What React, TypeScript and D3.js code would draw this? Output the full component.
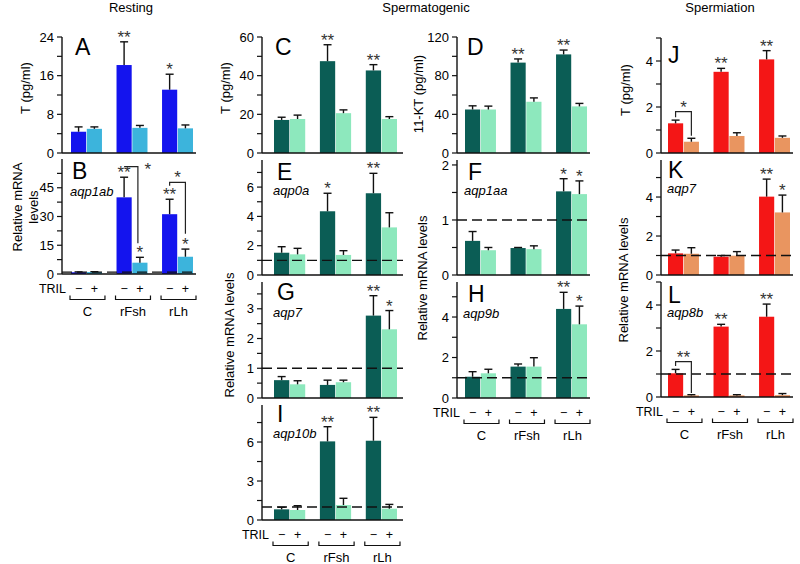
import React from "react";
import * as d3 from "d3";

const FONT = "'Liberation Sans', Arial, Helvetica, sans-serif";

const groups = ["C", "rFsh", "rLh"];
const trilLevels = ["−", "+"];

// order: C−, C+, rFsh−, rFsh+, rLh−, rLh+
const restTMean = [4.4, 5.0, 18.2, 5.2, 13.1, 5.1];
const restTSem = [1.0, 0.4, 4.8, 0.5, 3.2, 0.7];
const restAqp1abMean = [0.9, 1.0, 40, 5.9, 31.2, 9.0];
const restAqp1abSem = [0.2, 0.2, 10.5, 2.8, 7.8, 4.0];

const spgTMean = [17.1, 17.6, 47.5, 20.6, 42.7, 17.6];
const spgTSem = [1.4, 2.0, 8.5, 1.7, 3.0, 1.2];
const spgKtMean = [45, 45, 93.5, 53, 102, 48.2];
const spgKtSem = [3.8, 3.5, 3.8, 4.0, 4.5, 3.1];
const spgAqp0aMean = [1.52, 1.41, 4.35, 1.37, 5.58, 3.25];
const spgAqp0aSem = [0.41, 0.41, 1.23, 0.29, 1.36, 1.0];
const spgAqp1aaMean = [0.62, 0.45, 0.49, 0.47, 1.52, 1.47];
const spgAqp1aaSem = [0.17, 0.05, 0.01, 0.06, 0.23, 0.24];
const spgAqp7Mean = [0.6, 0.46, 0.44, 0.53, 2.77, 2.31];
const spgAqp7Sem = [0.12, 0.12, 0.16, 0.07, 0.67, 0.63];
const spgAqp9bMean = [1.05, 1.22, 1.55, 1.55, 4.4, 3.64];
const spgAqp9bSem = [0.25, 0.2, 0.13, 0.44, 0.82, 0.9];
const spgAqp10bMean = [0.82, 0.77, 6.05, 1.15, 6.1, 0.87];
const spgAqp10bSem = [0.16, 0.33, 1.13, 0.52, 1.8, 0.33];

const spmTMean = [1.29, 0.49, 3.53, 0.74, 4.07, 0.66];
const spmTSem = [0.14, 0.15, 0.15, 0.14, 0.38, 0.08];
const spmAqp7Mean = [1.11, 1.09, 0.94, 0.99, 4.02, 3.21];
const spmAqp7Sem = [0.17, 0.31, 0.06, 0.21, 0.9, 0.89];
const spmAqp8bMean = [1.03, 0.07, 3.06, 0.07, 3.49, 0.08];
const spmAqp8bSem = [0.17, 0.03, 0.1, 0.03, 0.55, 0.07];

const starsA = ["", "", "**", "", "*", ""];
const starsB = ["", "", "**", "*", "**", "*"];
const starsCD = ["", "", "**", "", "**", ""];
const starsE = ["", "", "*", "", "**", ""];
const starsF = ["", "", "", "", "*", "*"];
const starsGHK = ["", "", "", "", "**", "*"];

const restCols: [string, string] = ["#1414ee", "#3cb4dc"];
const spgCols: [string, string] = ["#0b5d55", "#8de8bd"];
const spmCols: [string, string] = ["#f41616", "#e99560"];

type Bracket = {
  a: number; b: number; level: number; endA?: number; endB: number;
  label: string; side?: boolean;
};

type PanelDef = {
  letter: string; gene?: string;
  mean: number[]; sem: number[]; stars: string[];
  colors: [string, string];
  axisX: number; xEnd: number; xr: [number, number];
  y0: number; yTop: number; max: number;
  major: number[]; minor: number[];
  dashed?: boolean; tril?: boolean;
  letterPos: [number, number]; genePos?: [number, number];
  brackets?: Bracket[];
};

const col1 = { axisX: 62, xEnd: 196, xr: [71, 193] as [number, number] };
const col2 = { axisX: 262, xEnd: 403, xr: [274, 397] as [number, number] };
const col3 = { axisX: 457, xEnd: 590, xr: [465, 587] as [number, number] };
const col4 = { axisX: 661, xEnd: 793, xr: [668, 790] as [number, number] };

const panels: PanelDef[] = [
  {
    letter: "A", mean: restTMean, sem: restTSem, stars: starsA, colors: restCols, ...col1,
    y0: 153, yTop: 37, max: 24, major: [0, 8, 16, 24], minor: [4, 12, 20], letterPos: [75, 55],
  },
  {
    letter: "B", gene: "aqp1ab", mean: restAqp1abMean, sem: restAqp1abSem, stars: starsB, colors: restCols, ...col1,
    y0: 274, yTop: 159, max: 60, major: [0, 15, 30, 45], minor: [7.5, 22.5, 37.5, 52.5],
    dashed: true, tril: true, letterPos: [72, 179], genePos: [70, 196],
    brackets: [
      { a: 2, b: 3, level: 56, endB: 16, label: "*", side: true },
      { a: 4, b: 5, level: 47.8, endA: 46, endB: 21, label: "*" },
    ],
  },
  {
    letter: "C", mean: spgTMean, sem: spgTSem, stars: starsCD, colors: spgCols, ...col2,
    y0: 153, yTop: 37, max: 60, major: [0, 20, 40, 60], minor: [10, 30, 50], letterPos: [275, 55],
  },
  {
    letter: "E", gene: "aqp0a", mean: spgAqp0aMean, sem: spgAqp0aSem, stars: starsE, colors: spgCols, ...col2,
    y0: 275, yTop: 160, max: 7.85, major: [0, 2, 4, 6], minor: [1, 3, 5, 7], dashed: true,
    letterPos: [277, 180], genePos: [273, 195],
  },
  {
    letter: "G", gene: "aqp7", mean: spgAqp7Mean, sem: spgAqp7Sem, stars: starsGHK, colors: spgCols, ...col2,
    y0: 398, yTop: 282, max: 3.9, major: [0, 1, 2, 3], minor: [0.5, 1.5, 2.5, 3.5], dashed: true,
    letterPos: [277, 300], genePos: [273, 317],
  },
  {
    letter: "I", gene: "aqp10b", mean: spgAqp10bMean, sem: spgAqp10bSem, stars: starsCD, colors: spgCols, ...col2,
    y0: 520, yTop: 405, max: 8.85, major: [0, 3, 6], minor: [1.5, 4.5, 7.5], dashed: true, tril: true,
    letterPos: [277, 422], genePos: [273, 438],
  },
  {
    letter: "D", mean: spgKtMean, sem: spgKtSem, stars: starsCD, colors: spgCols, ...col3,
    y0: 153, yTop: 37, max: 120, major: [0, 40, 80, 120], minor: [20, 60, 100], letterPos: [467, 55],
  },
  {
    letter: "F", gene: "aqp1aa", mean: spgAqp1aaMean, sem: spgAqp1aaSem, stars: starsF, colors: spgCols, ...col3,
    y0: 275, yTop: 160, max: 2.09, major: [0, 1, 2], minor: [0.5, 1.5], dashed: true,
    letterPos: [468, 180], genePos: [464, 195],
  },
  {
    letter: "H", gene: "aqp9b", mean: spgAqp9bMean, sem: spgAqp9bSem, stars: starsGHK, colors: spgCols, ...col3,
    y0: 398, yTop: 282, max: 5.73, major: [0, 2, 4], minor: [1, 3, 5], dashed: true, tril: true,
    letterPos: [468, 302], genePos: [463, 318],
  },
  {
    letter: "J", mean: spmTMean, sem: spmTSem, stars: starsCD, colors: spmCols, ...col4,
    y0: 153, yTop: 38, max: 5, major: [0, 2, 4], minor: [1, 3, 5], letterPos: [668, 63],
    brackets: [{ a: 0, b: 1, level: 1.8, endA: 1.55, endB: 0.75, label: "*" }],
  },
  {
    letter: "K", gene: "aqp7", mean: spmAqp7Mean, sem: spmAqp7Sem, stars: starsGHK, colors: spmCols, ...col4,
    y0: 275, yTop: 160, max: 5.9, major: [0, 2, 4], minor: [1, 3, 5], dashed: true,
    letterPos: [668, 178], genePos: [667, 193],
  },
  {
    letter: "L", gene: "aqp8b", mean: spmAqp8bMean, sem: spmAqp8bSem, stars: starsCD, colors: spmCols, ...col4,
    y0: 397, yTop: 282, max: 5, major: [0, 2, 4], minor: [1, 3, 5], dashed: true, tril: true,
    letterPos: [668, 303], genePos: [667, 317],
    brackets: [{ a: 0, b: 1, level: 1.54, endA: 1.35, endB: 0.17, label: "**" }],
  },
];

function Panel({ p }: { p: PanelDef }) {
  const y = d3.scaleLinear().domain([0, p.max]).range([p.y0, p.yTop]);
  const gx = d3.scaleBand().domain(groups).range(p.xr).paddingInner(0.32);
  const bx = d3.scaleBand().domain(trilLevels).range([0, gx.bandwidth()]).paddingInner(0.04);
  const barX = (i: number) => (gx(groups[Math.floor(i / 2)]) as number) + (bx(trilLevels[i % 2]) as number);
  const cx = (i: number) => barX(i) + bx.bandwidth() / 2;
  const ticks = [...p.major, ...p.minor];

  return (
    <g>
      {p.mean.map((m, i) => (
        <rect key={"b" + i} x={barX(i)} y={y(m)} width={bx.bandwidth()} height={p.y0 - y(m)}
          fill={p.colors[i % 2]} />
      ))}
      {p.dashed && (
        <line x1={p.axisX} x2={p.xEnd} y1={y(1)} y2={y(1)} stroke="#111" strokeWidth={1.4}
          strokeDasharray="10,5" />
      )}
      {p.mean.map((m, i) => {
        const top = y(m + p.sem[i]);
        return (
          <g key={"e" + i} stroke="#111" strokeWidth={1.4}>
            <line x1={cx(i)} x2={cx(i)} y1={y(m)} y2={top} />
            <line x1={cx(i) - 4} x2={cx(i) + 4} y1={top} y2={top} />
          </g>
        );
      })}
      {p.stars.map((s, i) => s && (
        <text key={"s" + i} x={cx(i)} y={y(p.mean[i] + p.sem[i]) + 1} textAnchor="middle"
          fontSize={17} fill="#333">{s}</text>
      ))}
      {(p.brackets || []).map((b, k) => {
        const xa = cx(b.a);
        const xb = b.side ? cx(b.b) - 2 : cx(b.b);
        const yl = y(b.level);
        const d = b.endA !== undefined
          ? `M${xa},${y(b.endA)}V${yl}H${xb}V${y(b.endB)}`
          : `M${xa},${yl}H${xb}V${y(b.endB)}`;
        return (
          <g key={"k" + k}>
            <path d={d} fill="none" stroke="#222" strokeWidth={1.2} />
            <text x={b.side ? xb + 10 : (xa + xb) / 2} y={b.side ? yl + 8 : yl + 1} textAnchor="middle"
              fontSize={17} fill="#333">{b.label}</text>
          </g>
        );
      })}
      <line x1={p.axisX} x2={p.axisX} y1={p.y0} y2={p.yTop} stroke="#111" strokeWidth={1.4} />
      <line x1={p.axisX} x2={p.xEnd} y1={p.y0} y2={p.y0} stroke="#111" strokeWidth={1.4} />
      {ticks.map((t) => (
        <line key={"t" + t} x1={p.axisX - 5} x2={p.axisX} y1={y(t)} y2={y(t)} stroke="#111" strokeWidth={1.2} />
      ))}
      {p.major.map((t) => (
        <text key={"l" + t} x={p.axisX - 8} y={y(t)} dy="0.35em" textAnchor="end" fontSize={13}>{t}</text>
      ))}
      <text x={p.letterPos[0]} y={p.letterPos[1]} fontSize={23}>{p.letter}</text>
      {p.gene && p.genePos && (
        <text x={p.genePos[0]} y={p.genePos[1]} fontSize={13} fontStyle="italic">{p.gene}</text>
      )}
      {p.tril && (
        <g fontSize={12.5}>
          <text x={p.xr[0] - 5} y={p.y0 + 18.5} textAnchor="end">TRIL</text>
          {p.mean.map((_, i) => (
            <text key={"tr" + i} x={cx(i)} y={p.y0 + 18.5} textAnchor="middle">{trilLevels[i % 2]}</text>
          ))}
          {groups.map((g) => {
            const g0 = (gx(g) as number) - 1;
            const g1 = (gx(g) as number) + gx.bandwidth() + 3;
            return (
              <g key={g}>
                <path d={`M${g0},${p.y0 + 21.5}V${p.y0 + 25.5}H${g1}V${p.y0 + 21.5}`} fill="none"
                  stroke="#111" strokeWidth={1.2} />
                <text x={(g0 + g1) / 2} y={p.y0 + 42} textAnchor="middle" fontSize={13}>{g}</text>
              </g>
            );
          })}
        </g>
      )}
    </g>
  );
}

function VLabel({ x, y, text }: { x: number; y: number; text: string }) {
  return (
    <text transform={`translate(${x},${y}) rotate(-90)`} dy="0.35em" textAnchor="middle" fontSize={13}>
      {text}
    </text>
  );
}

export default function App() {
  return (
    <svg width={800} height={564} style={{ position: "absolute", left: 0, top: 0, background: "#fff" }}
      fontFamily={FONT}>
      <rect width={800} height={564} fill="#fff" />
      <g fontSize={13} textAnchor="middle">
        <text x={131} y={12}>Resting</text>
        <text x={426} y={12}>Spermatogenic</text>
        <text x={720} y={12}>Spermiation</text>
      </g>
      <VLabel x={25} y={88} text="T (pg/ml)" />
      <VLabel x={17} y={207} text="Relative mRNA" />
      <VLabel x={33} y={207} text="levels" />
      <VLabel x={225} y={88} text="T (pg/ml)" />
      <VLabel x={418} y={94} text="11-KT (pg/ml)" />
      <VLabel x={625} y={90} text="T (pg/ml)" />
      <VLabel x={229} y={335} text="Relative mRNA levels" />
      <VLabel x={422} y={278} text="Relative mRNA levels" />
      <VLabel x={623} y={280} text="Relative mRNA levels" />
      {panels.map((p) => (
        <Panel key={p.letter} p={p} />
      ))}
    </svg>
  );
}
